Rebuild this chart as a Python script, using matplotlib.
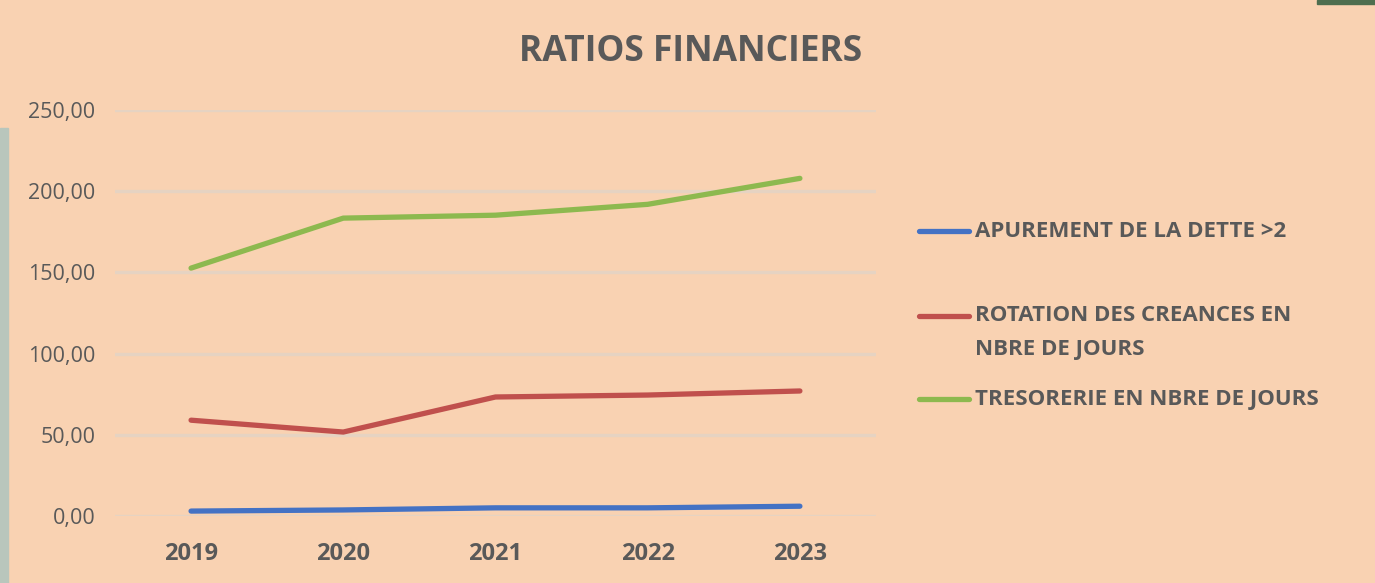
import numpy as np
import matplotlib.pyplot as plt
from matplotlib.lines import Line2D
from matplotlib.patches import Rectangle

plt.rcParams['font.family'] = ['Open Sans', 'DejaVu Sans']

# Data
years = ['2019', '2020', '2021', '2022', '2023']
apurement = [3.0, 3.7, 5.0, 5.0, 6.0]
rotation = [59.0, 51.7, 73.3, 74.5, 77.0]
tresorerie = [152.7, 183.5, 185.3, 192.0, 208.0]

labels = ['APUREMENT DE LA DETTE >2',
          'ROTATION DES CREANCES EN\nNBRE DE JOURS',
          'TRESORERIE EN NBRE DE JOURS']
colors = ['#4472C4', '#C0504D', '#8DB94F']
series = [apurement, rotation, tresorerie]

bg = '#F9D2B2'
txt = '#595959'

fig = plt.figure(figsize=(13.75, 5.83), dpi=100, facecolor=bg)
# screenshot borders
fig.add_artist(Rectangle((0, 0), 0.006, 0.78, transform=fig.transFigure,
                         color='#B9C6BC', zorder=0))
fig.add_artist(Rectangle((0.958, 0.993), 0.042, 0.007, transform=fig.transFigure,
                         color='#4E6E4F', zorder=0))

ax = fig.add_axes([0.0836, 0.115, 0.5535, 0.696])
ax.set_facecolor(bg)

x = np.arange(len(years))
for s, c in zip(series, colors):
    ax.plot(x, s, color=c, linewidth=3.8, solid_capstyle='round', zorder=3)

ax.set_xlim(-0.5, len(years) - 0.5)
ax.set_ylim(0, 250)
ax.set_yticks(np.arange(0, 251, 50))
ax.set_yticklabels([f'{v:.2f}'.replace('.', ',') for v in np.arange(0, 251, 50)],
                   fontsize=15.5, color=txt)
ax.set_xticks(x)
ax.set_xticklabels(years, fontsize=17, fontweight='bold', color=txt)
ax.tick_params(axis='both', length=0)
ax.tick_params(axis='y', pad=14)
ax.tick_params(axis='x', pad=19)
ax.grid(axis='y', color='#E6D3C2', linewidth=2.4)
ax.set_axisbelow(True)
for sp in ax.spines.values():
    sp.set_visible(False)

fig.text(0.502, 0.91, 'RATIOS FINANCIERS', fontsize=25.5, fontweight='bold',
         color=txt, ha='center', va='center')

# legend drawn by hand to place the wrapped label like the original
leg_y = [0.603, 0.458, 0.315]
line_gap = 34 / 583
for lab, c, yy in zip(labels, colors, leg_y):
    fig.add_artist(Line2D([0.668, 0.705], [yy, yy], transform=fig.transFigure,
                          color=c, linewidth=3.8, solid_capstyle='round'))
    for i, part in enumerate(lab.split('\n')):
        fig.text(0.709, yy - i * line_gap, part, fontsize=16, fontweight='bold',
                 color=txt, ha='left', va='center')

fig.savefig('out.png', dpi=100, facecolor=bg)
